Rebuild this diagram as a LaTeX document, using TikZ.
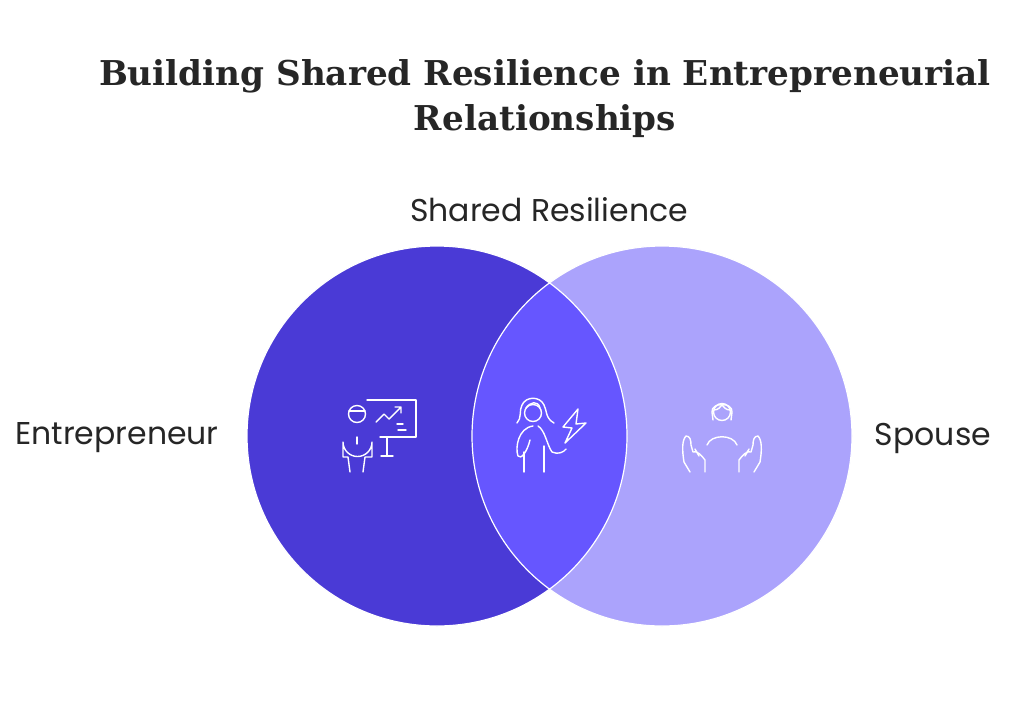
\documentclass[tikz,border=0pt]{standalone}
\usepackage{fontspec}
\setmainfont{DejaVu Serif}
\newfontfamily\lblfont{Poppins}
\begin{document}
\begin{tikzpicture}[x=1pt,y=-1pt,
  ico/.style={draw=white,line width=1.4pt,line cap=round,line join=round},
  lbl/.style={font=\lblfont\fontsize{31.5}{36}\selectfont,text=black!85}]
\definecolor{cL}{HTML}{4A3AD6}
\definecolor{cR}{HTML}{ABA3FC}
\definecolor{cM}{HTML}{6656FF}
\useasboundingbox (0,0) rectangle (1024,702);
\fill[white] (0,0) rectangle (1024,702);
\fill[cL] (437,436) circle (190);
\fill[cR] (662,436) circle (190);
\begin{scope}
\clip (437,436) circle (190);
\fill[cM] (662,436) circle (190);
\end{scope}
\draw[white,line width=1.2pt] (437,436) circle (190) (662,436) circle (190);
\node[font=\bfseries\fontsize{34.2}{45}\selectfont,text=black!85,align=center] (title) at (545,99) {Building Shared Resilience in Entrepreneurial\\Relationships};
\node[lbl] (shared) at (549,210) {Shared Resilience};
\node[lbl] (ent) at (117,438) {Entrepreneur};
\node[lbl] (sp) at (933,438) {Spouse};
% entrepreneur icon
\draw[ico] (357,414) circle (8.5);
\draw[ico] (349,411) -- (365,411);
\draw[ico] (350,472) -- (348,457) -- (343,457) -- (343,442) arc (180:0:14.5) -- (372,457) -- (365,457) -- (363,472);
\draw[ico] (357,437) -- (357,444);
\draw[ico] (367,400) -- (416,400) -- (416,437) -- (380,437);
\draw[ico] (387,437) -- (387,456) (381,456) -- (393,456);
\draw[ico] (376,422) -- (384,414) -- (389,419) -- (401,407) (395,407) -- (401,407) -- (401,413);
\draw[ico] (397,424) -- (403,424) (398,430) -- (406,430);
% middle icon
\draw[ico] (533,413) circle (8.5);
\draw[ico] (526,408) .. controls (530,402) and (538,400) .. (540,408);
\draw[ico] (517,423) .. controls (522,418) and (519,410) .. (522,405) .. controls (526,396) and (540,396) .. (544,405) .. controls (547,410) and (545,418) .. (554,423);
\draw[ico] (524,472) -- (524,452) (544,472) -- (544,446);
\draw[ico] (533,426) .. controls (518,428) and (515,448) .. (518,456) .. controls (521,460) and (527,452) .. (530,440);
\draw[ico] (538,426) .. controls (545,430) and (547,445) .. (552,452) .. controls (558,455) and (564,452) .. (566,449);
\draw[ico] (578,409) -- (563,427) -- (572,428) -- (565,443) -- (586,423) -- (576,424) -- cycle;
% spouse icon
\draw[ico] (722,412) circle (8.5);
\draw[ico] (713,420) -- (712,412) .. controls (711,402) and (733,402) .. (732,412) -- (731,420);
\draw[ico] (714,410) .. controls (718,410) and (721,407) .. (722,404) .. controls (723,407) and (726,410) .. (730,410);
\draw[ico] (707,445) .. controls (711,434) and (733,434) .. (737,445);
\draw[ico] (690,472) -- (684,462) .. controls (682,450) and (682,440) .. (686,436) .. controls (690,436) and (691,440) .. (691,445) -- (693,452) .. controls (697,450) and (702,456) .. (705,460) -- (705,472);
\draw[ico] (699,456) -- (695,449);
\draw[ico] (754,472) -- (760,462) .. controls (762,450) and (762,440) .. (758,436) .. controls (754,436) and (753,440) .. (753,445) -- (751,452) .. controls (747,450) and (742,456) .. (739,460) -- (739,472);
\draw[ico] (745,456) -- (749,449);
\end{tikzpicture}
\end{document}
